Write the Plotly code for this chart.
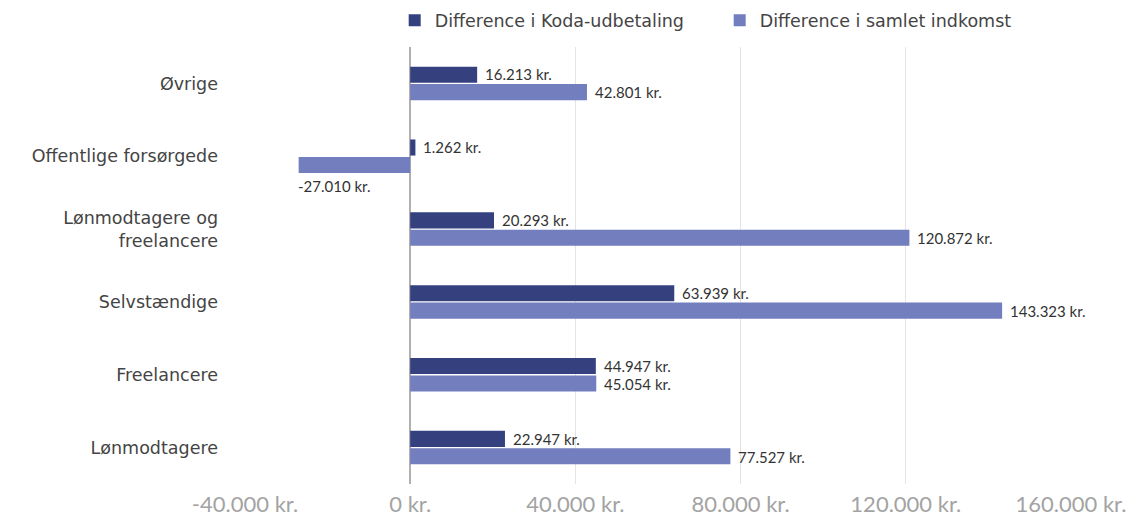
import plotly.graph_objects as go

categories = ["Lønmodtagere", "Freelancere", "Selvstændige",
              "Lønmodtagere og<br>freelancere", "Offentlige forsørgede", "Øvrige"]
koda = [22947, 44947, 63939, 20293, 1262, 16213]
samlet = [77527, 45054, 143323, 120872, -27010, 42801]
tick_vals = [-40000, 0, 40000, 80000, 120000, 160000]

DARK = "#35407f"
LIGHT = "#727ebd"

def fmt(v):
    s = f"{abs(v):,}".replace(",", ".")
    return ("-" if v < 0 else "") + s + " kr."

fig = go.Figure()
fig.add_trace(go.Bar(y=categories, x=samlet, orientation="h", name="Difference i samlet indkomst",
                     marker=dict(color=LIGHT, line=dict(width=0)), hoverinfo="skip"))
fig.add_trace(go.Bar(y=categories, x=koda, orientation="h", name="Difference i Koda-udbetaling",
                     marker=dict(color=DARK, line=dict(width=0)), hoverinfo="skip"))

LBL = dict(family="Lato", size=15, color="#333")
annotations = []
for c, v in zip(categories, koda):
    annotations.append(dict(x=max(v, 0), y=c, xref="x", yref="y", text=fmt(v), showarrow=False,
                            xanchor="left", xshift=6, yshift=9, font=LBL))
for c, v in zip(categories, samlet):
    if v >= 0:
        annotations.append(dict(x=v, y=c, xref="x", yref="y", text=fmt(v), showarrow=False,
                                xanchor="left", xshift=6, yshift=-9, font=LBL))
    else:
        annotations.append(dict(x=v, y=c, xref="x", yref="y", text=fmt(v), showarrow=False,
                                xanchor="left", xshift=-3, yshift=-30, font=LBL))

fig.update_layout(
    width=1134, height=508,
    margin=dict(l=236, r=70, t=39, b=32, autoexpand=False),
    paper_bgcolor="white", plot_bgcolor="white",
    barmode="group", bargap=0.52, bargroupgap=0.08,
    separators=",.",
    showlegend=True,
    legend=dict(orientation="h", x=0.182, xanchor="left", y=1.02, yanchor="bottom",
                yref="paper", traceorder="reversed", entrywidth=280, entrywidthmode="pixels",
                font=dict(family="DejaVu Sans", size=17.5, color="#444")),
    annotations=annotations,
    xaxis=dict(range=[-40242, 160242], tickvals=tick_vals, ticktext=[fmt(v) for v in tick_vals],
               showgrid=True, gridcolor="#e4e4e4", gridwidth=1,
               zeroline=True, zerolinecolor="#b0b0b0", zerolinewidth=1.5,
               tickfont=dict(family="Lato", size=22, color="#a3a3a3"),
               ticks="", showline=False, automargin=False, ticklabelstandoff=5, fixedrange=True),
    yaxis=dict(categoryorder="array", categoryarray=categories,
               tickfont=dict(family="DejaVu Sans", size=17.5, color="#444"),
               showgrid=False, ticks="", automargin=False, ticklabelstandoff=25, fixedrange=True),
)

fig.write_html("out.html")
